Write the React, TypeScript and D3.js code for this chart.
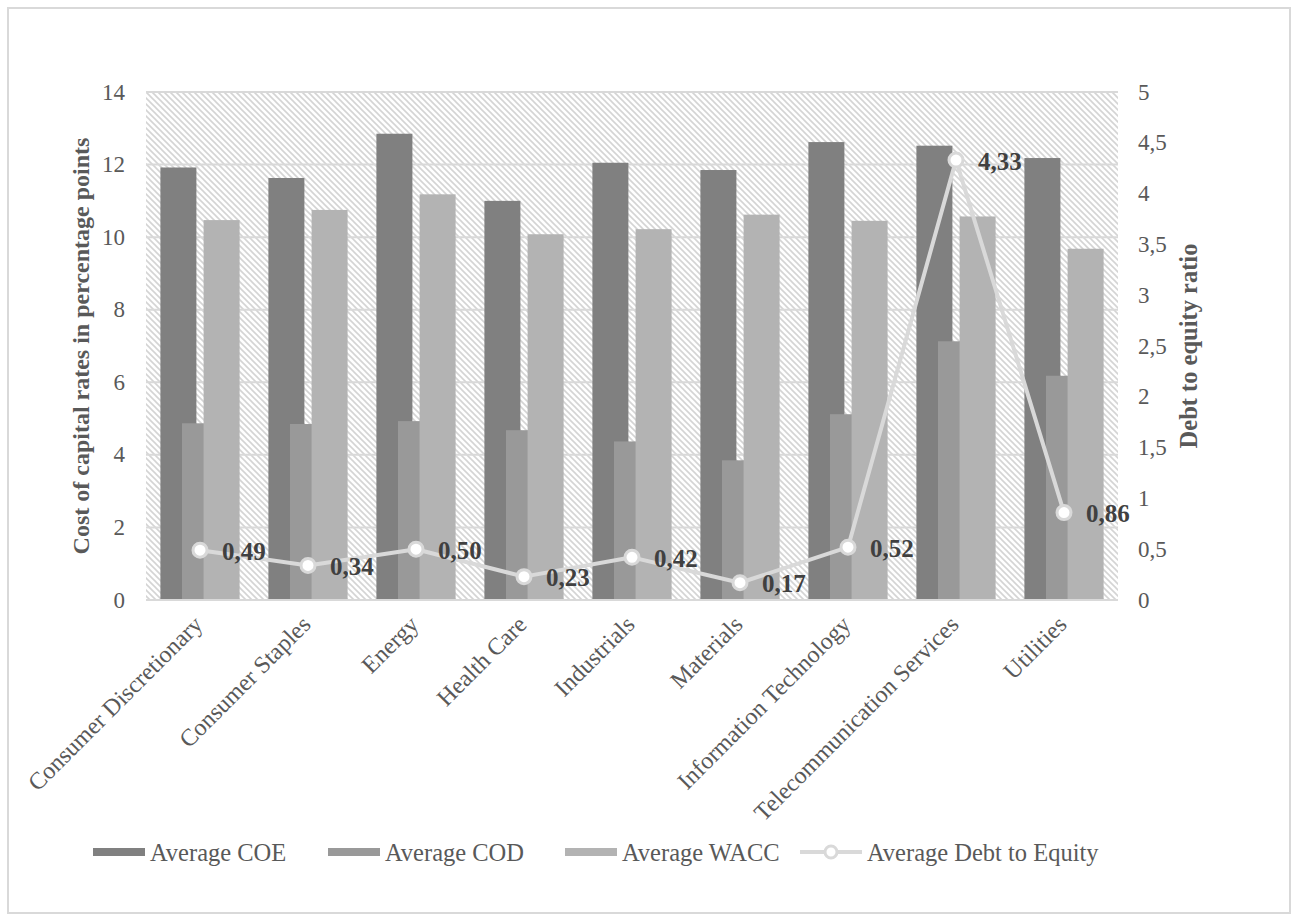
import React from "react";
import * as d3 from "d3";

const categories = [
  "Consumer Discretionary",
  "Consumer Staples",
  "Energy",
  "Health Care",
  "Industrials",
  "Materials",
  "Information Technology",
  "Telecommunication Services",
  "Utilities",
];
const avgCOE = [11.92, 11.63, 12.85, 11.0, 12.05, 11.85, 12.62, 12.52, 12.18];
const avgCOD = [4.87, 4.85, 4.93, 4.68, 4.37, 3.85, 5.12, 7.13, 6.18];
const avgWACC = [10.47, 10.75, 11.18, 10.08, 10.22, 10.62, 10.45, 10.57, 9.68];
const avgDebtToEquity = [0.49, 0.34, 0.5, 0.23, 0.42, 0.17, 0.52, 4.33, 0.86];
const leftTicks = [0, 2, 4, 6, 8, 10, 12, 14];
const rightTicks = [0, 0.5, 1, 1.5, 2, 2.5, 3, 3.5, 4, 4.5, 5];

const W = 1299, H = 921;
const plot = { left: 146, right: 1118, top: 92, bottom: 600 };
const serif = "'Liberation Serif', 'Times New Roman', serif";
const fmt = (v: number) => String(v).replace(".", ",");

const barSeries = [
  { name: "Average COE", values: avgCOE, color: "#808080" },
  { name: "Average COD", values: avgCOD, color: "#999999" },
  { name: "Average WACC", values: avgWACC, color: "#b3b3b3" },
];

export default function App() {
  const x = d3.scaleBand<string>().domain(categories).range([plot.left, plot.right]).padding(0);
  const yL = d3.scaleLinear().domain([0, 14]).range([plot.bottom, plot.top]);
  const yR = d3.scaleLinear().domain([0, 5]).range([plot.bottom, plot.top]);

  const band = x.bandwidth();
  const barW = band / 3;
  const step = barW * 0.6;
  const groupW = barW + 2 * step;
  const cx = (c: string) => (x(c) as number) + band / 2;

  const line = d3.line<number>()
    .x((_, i) => cx(categories[i]))
    .y(d => yR(d));

  const legendY = 852;
  const legend = [
    { kind: "bar", color: "#808080", sx: 93, tx: 150, label: "Average COE" },
    { kind: "bar", color: "#999999", sx: 328, tx: 385, label: "Average COD" },
    { kind: "bar", color: "#b3b3b3", sx: 565, tx: 622, label: "Average WACC" },
    { kind: "line", color: "#d9d9d9", sx: 800, tx: 867, label: "Average Debt to Equity" },
  ];

  return (
    <svg width={W} height={H} style={{ position: "absolute", left: 0, top: 0, background: "#fff" }}>
      <defs>
        <pattern id="hatch" patternUnits="userSpaceOnUse" width={6} height={6}>
          <rect width={6} height={6} fill="#ffffff" />
          <path d="M0,0 L6,6 M-3,3 L3,9 M3,-3 L9,3" stroke="#d4d4d4" strokeWidth={1.6} />
        </pattern>
      </defs>
      <rect x={8} y={8} width={1282} height={905} fill="#fff" stroke="#d9d9d9" strokeWidth={2} />

      <rect x={plot.left} y={plot.top} width={plot.right - plot.left} height={plot.bottom - plot.top} fill="url(#hatch)" />

      {leftTicks.map(t => (
        <g key={"gl" + t}>
          {t > 0 && (
            <line x1={plot.left} x2={plot.right} y1={yL(t)} y2={yL(t)} stroke="#d9d9d9" strokeWidth={2} />
          )}
          <text x={125} y={yL(t)} textAnchor="end" dominantBaseline="central" fontFamily={serif} fontSize={23} fill="#595959">
            {t}
          </text>
        </g>
      ))}

      {rightTicks.map(t => (
        <text key={"r" + t} x={1138} y={yR(t)} textAnchor="start" dominantBaseline="central" fontFamily={serif} fontSize={23} fill="#595959">
          {fmt(t)}
        </text>
      ))}

      {barSeries.map((s, si) => (
        <g key={s.name}>
          {s.values.map((v, i) => {
            const x0 = (x(categories[i]) as number) + (band - groupW) / 2 + si * step;
            return <rect key={i} x={x0} y={yL(v)} width={barW} height={plot.bottom - yL(v)} fill={s.color} />;
          })}
        </g>
      ))}

      <line x1={plot.left} x2={plot.right} y1={plot.bottom} y2={plot.bottom} stroke="#d9d9d9" strokeWidth={2} />

      <path d={line(avgDebtToEquity) || ""} fill="none" stroke="#d9d9d9" strokeWidth={4} strokeLinejoin="round" />
      {avgDebtToEquity.map((v, i) => (
        <g key={"p" + i}>
          <circle cx={cx(categories[i])} cy={yR(v)} r={7} fill="#ffffff" stroke="#d9d9d9" strokeWidth={3} />
          <text x={cx(categories[i]) + 22} y={yR(v) + 1} dominantBaseline="central" fontFamily={serif} fontSize={25} fontWeight="bold" fill="#404040">
            {v.toFixed(2).replace(".", ",")}
          </text>
        </g>
      ))}

      {categories.map(c => (
        <text key={c} transform={`translate(${cx(c) + 4},${626}) rotate(-45)`} textAnchor="end" fontFamily={serif} fontSize={24} fill="#595959">
          {c}
        </text>
      ))}

      <text transform={`translate(89,${(plot.top + plot.bottom) / 2}) rotate(-90)`} textAnchor="middle" fontFamily={serif} fontSize={24} fontWeight="bold" fill="#595959">
        Cost of capital rates in percentage points
      </text>
      <text transform={`translate(1197,${(plot.top + plot.bottom) / 2}) rotate(-90)`} textAnchor="middle" fontFamily={serif} fontSize={24.5} fontWeight="bold" fill="#595959">
        Debt to equity ratio
      </text>

      {legend.map(l => (
        <g key={l.label}>
          {l.kind === "bar" ? (
            <rect x={l.sx} y={legendY - 4} width={52} height={8} fill={l.color} />
          ) : (
            <g>
              <line x1={l.sx} x2={l.sx + 62} y1={legendY} y2={legendY} stroke={l.color} strokeWidth={4} />
              <circle cx={l.sx + 31} cy={legendY} r={6} fill="#fff" stroke={l.color} strokeWidth={3} />
            </g>
          )}
          <text x={l.tx} y={legendY} dominantBaseline="central" fontFamily={serif} fontSize={24.5} fill="#595959">
            {l.label}
          </text>
        </g>
      ))}
    </svg>
  );
}
